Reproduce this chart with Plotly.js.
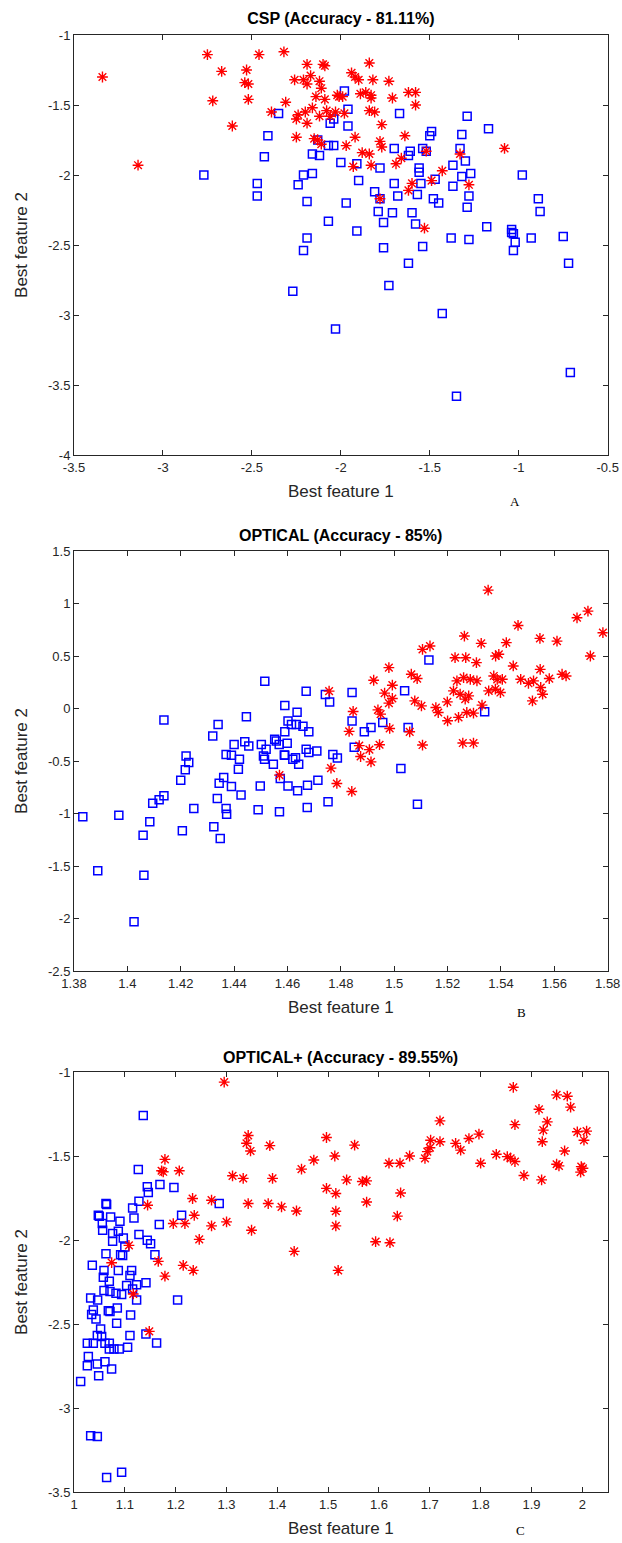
<!DOCTYPE html>
<html><head><meta charset="utf-8">
<script src="https://cdn.plot.ly/plotly-3.0.1.min.js"></script>
<style>html,body{margin:0;padding:0;background:#fff;} #chart{width:622px;height:1543px;}</style>
</head><body><div id="chart"></div><script>
// ---------- Panel A: CSP ----------
const cspRedX = [-3.34,-3.14,-2.75,-2.67,-2.72,-2.61,-2.53,-2.54,-2.52,-2.52,-2.46,-2.32,-2.39,-2.31,-2.25,-2.24,-2.25,-2.19,-2.26,-2.21,-2.19,-2.17,-2.10,-2.09,-2.12,-2.11,-2.14,-2.16,-2.20,-2.19,-2.12,-2.09,-2.08,-2.02,-2.15,-2.13,-2.11,-2.06,
  -1.84,-1.94,-1.92,-1.90,-1.82,-1.73,-2.01,-1.99,-1.89,-1.86,-1.83,-1.83,-1.71,-1.62,-1.58,-1.58,-1.84,-1.81,-1.98,-1.77,-1.92,-1.97,-1.78,-1.77,-1.64,-1.88,-1.84,-1.93,-1.83,-1.69,-1.66,-1.52,-1.33,-1.08,-1.43,-1.49,-1.60,-1.62,-1.78,-1.28,-1.53,-2.03];
const cspRedY = [-1.30,-1.93,-1.14,-1.26,-1.47,-1.65,-1.25,-1.34,-1.35,-1.46,-1.14,-1.12,-1.55,-1.48,-1.60,-1.57,-1.73,-1.21,-1.32,-1.32,-1.35,-1.29,-1.21,-1.22,-1.33,-1.38,-1.44,-1.52,-1.55,-1.63,-1.58,-1.46,-1.54,-1.43,-1.74,-1.75,-1.78,-1.58,
  -1.20,-1.27,-1.30,-1.32,-1.32,-1.33,-1.44,-1.44,-1.42,-1.41,-1.43,-1.45,-1.45,-1.41,-1.41,-1.50,-1.54,-1.55,-1.56,-1.64,-1.73,-1.79,-1.76,-1.80,-1.72,-1.84,-1.85,-1.94,-1.93,-1.92,-1.88,-1.83,-1.85,-1.81,-1.97,-2.04,-2.06,-2.11,-2.17,-2.07,-2.38,-1.55];
const cspBlueX = [-2.77,-2.47,-2.47,-2.43,-2.41,-2.35,-2.24,-2.21,-2.16,-2.19,-2.16,-2.12,-2.13,-2.07,-2.19,-2.21,-2.04,-2.06,-2.04,-2.00,
  -1.98,-1.96,-1.96,-1.67,-1.29,-1.17,-1.49,-1.50,-1.32,-1.70,-1.61,-1.62,-1.54,-1.52,-1.33,-1.91,-1.78,-1.30,-1.27,-1.32,-1.37,-1.56,-1.56,-1.90,-1.70,-1.55,-1.47,-1.37,-0.98,-1.81,-1.78,-1.68,-1.57,-1.48,-1.45,-1.28,-1.29,-0.89,-0.88,-1.97,-1.79,-1.71,-1.60,-1.76,-1.58,-1.91,-1.18,-1.04,-1.04,-1.03,-1.02,-1.38,-1.28,-0.93,-0.75,-1.76,-1.54,-1.03,
  -2.27,-1.73,-1.62,-0.72,-2.03,-1.43,-0.71,-1.35,-2.07];
const cspBlueY = [-2.00,-2.06,-2.15,-1.87,-1.72,-1.56,-2.07,-2.00,-1.99,-2.19,-1.85,-1.86,-1.75,-2.33,-2.45,-2.54,-1.60,-1.63,-1.79,-1.91,
  -1.40,-1.53,-1.65,-1.56,-1.58,-1.67,-1.69,-1.72,-1.71,-1.81,-1.83,-1.86,-1.81,-1.83,-1.81,-1.92,-1.95,-1.90,-1.99,-2.01,-1.93,-1.95,-1.98,-2.04,-2.06,-2.06,-2.03,-2.08,-2.00,-2.12,-2.17,-2.15,-2.14,-2.17,-2.20,-2.15,-2.23,-2.17,-2.26,-2.20,-2.26,-2.27,-2.27,-2.34,-2.35,-2.40,-2.37,-2.39,-2.41,-2.42,-2.48,-2.45,-2.46,-2.45,-2.44,-2.52,-2.51,-2.54,
  -2.83,-2.79,-2.63,-2.63,-3.10,-2.99,-3.41,-3.58,-1.79];
const cspXTicks = [-3.5,-3,-2.5,-2,-1.5,-1,-0.5];
const cspXTickText = ['-3.5','-3','-2.5','-2','-1.5','-1','-0.5'];
const cspYTicks = [-4,-3.5,-3,-2.5,-2,-1.5,-1];
const cspYTickText = ['-4','-3.5','-3','-2.5','-2','-1.5','-1'];

// ---------- Panel B: OPTICAL ----------
const optRedX = [1.4756,1.5352,1.5685,1.5726,1.5782,1.5464,1.5263,1.5326,1.542,1.5546,1.561,1.5735,1.5106,1.5134,1.5228,1.5268,1.5308,1.538,1.5392,1.5446,1.498,1.4923,1.4993,1.5064,1.5086,1.5235,1.526,1.5285,1.531,1.5373,1.5386,1.5405,1.5474,1.5503,1.5547,1.5581,1.5629,1.5644,1.5522,1.5549,1.5556,1.5518,1.4964,1.4993,1.498,1.4939,1.4949,1.5077,1.5102,1.5156,1.5165,1.5199,1.52,1.5222,1.5247,1.5266,1.5279,1.5241,1.5272,1.5297,1.5329,1.5354,1.5379,1.5398,1.4831,1.4846,1.4983,1.5058,1.5106,1.4945,1.4907,1.4869,1.5257,1.5297,1.457,1.4763,1.4785,1.4841,1.4874,1.4913];
const optRedY = [0.165,1.127,0.864,0.927,0.722,0.791,0.69,0.62,0.627,0.668,0.642,0.5,0.563,0.595,0.484,0.484,0.437,0.5,0.516,0.405,0.389,0.269,0.222,0.326,0.285,0.263,0.294,0.278,0.263,0.31,0.278,0.278,0.278,0.24,0.373,0.285,0.326,0.31,0.263,0.2,0.136,0.073,0.146,0.095,0.051,-0.013,-0.054,0.073,0.025,0.009,-0.038,0.063,-0.117,0.168,0.136,0.089,0.12,-0.085,-0.038,-0.044,0.032,0.168,0.184,0.152,-0.218,-0.028,-0.19,-0.222,-0.348,-0.345,-0.392,-0.354,-0.329,-0.329,-0.635,-0.568,-0.714,-0.79,-0.457,-0.508];
const optBlueX = [1.4515,1.467,1.4742,1.4758,1.459,1.4636,1.4137,1.4446,1.434,1.4602,1.4615,1.4633,1.4658,1.459,1.468,1.432,1.44,1.444,1.4455,1.4502,1.4552,1.4558,1.4569,1.4599,1.452,1.467,1.468,1.471,1.477,1.437,1.439,1.422,1.442,1.451,1.459,1.463,1.513,1.4842,1.5039,1.5339,1.4842,1.4957,1.4913,1.4888,1.5052,1.485,1.4787,1.423,1.4217,1.42,1.4137,1.4119,1.4095,1.4249,1.4084,1.4059,1.4206,1.3833,1.3968,1.3889,1.4062,1.4025,1.4416,1.4361,1.4344,1.439,1.4426,1.4337,1.437,1.4372,1.4324,1.4348,1.449,1.4498,1.4514,1.4547,1.4588,1.4573,1.4602,1.462,1.4642,1.4638,1.457,1.4674,1.4675,1.4714,1.4752,1.5025,1.5087];
const optBlueY = [0.26,0.165,0.133,0.063,0.028,-0.035,-0.11,-0.079,-0.152,-0.12,-0.152,-0.152,-0.168,-0.222,-0.222,-0.263,-0.342,-0.316,-0.358,-0.342,-0.294,-0.31,-0.342,-0.332,-0.389,-0.389,-0.42,-0.405,-0.437,-0.437,-0.446,-0.453,-0.484,-0.453,-0.446,-0.468,0.462,0.152,0.168,-0.032,-0.12,-0.133,-0.18,-0.222,-0.18,-0.37,-0.472,-0.514,-0.584,-0.683,-0.832,-0.87,-0.902,-0.952,-1.079,-1.206,-1.165,-1.032,-1.016,-1.546,-1.587,-2.032,-0.578,-0.657,-0.711,-0.743,-0.825,-0.857,-0.952,-1.006,-1.127,-1.238,-0.965,-0.737,-0.483,-0.53,-0.444,-0.667,-0.737,-0.483,-0.53,-0.784,-0.984,-0.943,-0.73,-0.683,-0.889,-0.571,-0.911];
const optXTicks = [1.38,1.4,1.42,1.44,1.46,1.48,1.5,1.52,1.54,1.56,1.58];
const optXTickText = ['1.38','1.4','1.42','1.44','1.46','1.48','1.5','1.52','1.54','1.56','1.58'];
const optYTicks = [-2.5,-2,-1.5,-1,-0.5,0,0.5,1,1.5];
const optYTickText = ['-2.5','-2','-1.5','-1','-0.5','0','0.5','1','1.5'];

// ---------- Panel C: OPTICAL+ ----------
const plusRedX = [1.2955,1.1789,1.1723,1.1756,1.2071,1.3427,1.3394,1.3473,1.3853,1.3119,1.3329,1.3906,1.4476,1.4718,1.4967,1.5131,1.4967,1.5151,1.5151,1.5151,1.5197,1.2333,1.2706,1.3427,1.3821,1.4083,1.4377,1.1448,1.2366,1.1953,1.2182,1.2706,1.3001,1.3493,1.2464,1.1081,1.4332,1.1658,1.0741,1.2149,1.2346,1.1789,1.1166,1.1481,1.8643,1.72,1.8675,1.9148,1.9495,1.9705,1.977,1.9311,1.9233,1.9213,1.9902,2.0085,2.0033,1.9652,1.7016,1.7003,1.6951,1.6905,1.72,1.7508,1.7607,1.777,1.7967,1.8308,1.8525,1.859,1.8675,1.8,1.9495,1.9541,1.998,2.0013,1.9967,1.8852,1.92,1.6603,1.6413,1.6197,1.5521,1.5364,1.5672,1.5757,1.6426,1.5757,1.6361,1.5934,1.6216];
const plusRedY = [-1.06,-1.52,-1.588,-1.594,-1.588,-1.378,-1.424,-1.47,-1.438,-1.618,-1.633,-1.633,-1.578,-1.524,-1.39,-1.5,-1.693,-1.723,-1.829,-1.916,-2.181,-1.753,-1.763,-1.783,-1.783,-1.803,-1.827,-1.793,-1.853,-1.902,-1.902,-1.916,-1.892,-1.942,-1.996,-2.032,-2.068,-2.127,-2.135,-2.151,-2.181,-2.215,-2.321,-2.544,-1.091,-1.291,-1.313,-1.222,-1.136,-1.144,-1.209,-1.297,-1.346,-1.415,-1.356,-1.352,-1.406,-1.47,-1.406,-1.451,-1.474,-1.514,-1.415,-1.425,-1.465,-1.396,-1.37,-1.49,-1.504,-1.514,-1.533,-1.543,-1.549,-1.559,-1.563,-1.573,-1.596,-1.616,-1.642,-1.5,-1.543,-1.543,-1.435,-1.642,-1.652,-1.648,-1.72,-1.774,-1.858,-2.01,-2.016];
const plusBlueX = [1.1363,1.1265,1.1442,1.1462,1.1691,1.1966,1.1278,1.1153,1.118,1.0629,1.0642,1.0478,1.0498,1.0721,1.0904,1.2857,1.2117,1.1678,1.0557,1.0564,1.076,1.076,1.0872,1.097,1.1,1.1278,1.1442,1.1507,1.1592,1.0629,1.0917,1.0957,1.036,1.059,1.0577,1.0872,1.1134,1.1101,1.0695,1.1035,1.1232,1.1416,1.059,1.0708,1.1153,1.0328,1.0826,1.0937,1.0465,1.1232,1.2038,1.0675,1.0708,1.0852,1.0347,1.038,1.0433,1.1114,1.0839,1.0524,1.0459,1.0544,1.0609,1.0695,1.0262,1.038,1.1101,1.1415,1.1625,1.0695,1.0786,1.0891,1.1055,1.0282,1.0262,1.0459,1.0609,1.074,1.0485,1.0131,1.0328,1.0459,1.0642,1.0937];
const plusBlueY = [-1.259,-1.58,-1.683,-1.717,-1.669,-1.687,-1.769,-1.809,-1.869,-1.783,-1.789,-1.853,-1.859,-1.863,-1.888,-1.783,-1.853,-1.908,-1.902,-1.942,-1.962,-2.008,-1.948,-1.988,-2.042,-1.968,-2.002,-2.022,-2.088,-2.082,-2.088,-2.092,-2.151,-2.181,-2.221,-2.181,-2.181,-2.211,-2.245,-2.271,-2.267,-2.255,-2.301,-2.307,-2.291,-2.345,-2.317,-2.325,-2.357,-2.357,-2.357,-2.421,-2.425,-2.405,-2.444,-2.417,-2.47,-2.446,-2.496,-2.53,-2.569,-2.575,-2.615,-2.615,-2.615,-2.615,-2.569,-2.56,-2.613,-2.649,-2.649,-2.649,-2.639,-2.694,-2.748,-2.738,-2.724,-2.768,-2.808,-2.843,-3.165,-3.169,-3.413,-3.383];
const plusXTicks = [1,1.1,1.2,1.3,1.4,1.5,1.6,1.7,1.8,1.9,2];
const plusXTickText = ['1','1.1','1.2','1.3','1.4','1.5','1.6','1.7','1.8','1.9','2'];
const plusYTicks = [-3.5,-3,-2.5,-2,-1.5,-1];
const plusYTickText = ['-3.5','-3','-2.5','-2','-1.5','-1'];

const panelTitles = ['CSP (Accuracy - 81.11%)','OPTICAL (Accuracy - 85%)','OPTICAL+ (Accuracy - 89.55%)'];
const panelLetters = ['A','B','C'];
const xLabel = 'Best feature 1';
const yLabel = 'Best feature 2';

// ---------- layout helpers ----------
const W = 622, H = 1543;
const px = v => v / W;
const py = v => 1 - v / H;
const FONT = 'Liberation Sans, Arial, Helvetica, sans-serif';
const AX = '#262626';
const left = 74, right = 607.7;
const panels = [{top:35,bottom:455},{top:551,bottom:971},{top:1072,bottom:1492}];

function xAx(range, tv, tt, yanchor) {
  return {domain:[px(left),px(right)], range:range, anchor:yanchor, tickmode:'array', tickvals:tv, ticktext:tt,
    showline:true, mirror:'ticks', linecolor:AX, linewidth:1, ticks:'inside', ticklen:5, tickcolor:AX, tickwidth:1,
    showgrid:false, zeroline:false, tickfont:{family:FONT,size:13,color:AX},
    title:{text:xLabel, font:{family:FONT,size:17,color:AX}, standoff:11}};
}
function yAx(range, tv, tt, xanchor, p) {
  return {domain:[py(p.bottom),py(p.top)], range:range, anchor:xanchor, tickmode:'array', tickvals:tv, ticktext:tt,
    showline:true, mirror:'ticks', linecolor:AX, linewidth:1, ticks:'inside', ticklen:5, tickcolor:AX, tickwidth:1,
    showgrid:false, zeroline:false, tickfont:{family:FONT,size:13,color:AX},
    title:{text:yLabel, font:{family:FONT,size:17,color:AX}, standoff:16}};
}

const blueMarker = {symbol:'square-open', size:8, color:'#0000FF', line:{color:'#0000FF', width:1.5}};
const redMarker = {symbol:'asterisk-open', size:9, color:'#FF0000', line:{color:'#FF0000', width:1.4}};

const data = [
  {x:cspBlueX, y:cspBlueY, xaxis:'x', yaxis:'y', type:'scatter', mode:'markers', marker:blueMarker, name:'class 2'},
  {x:cspRedX, y:cspRedY, xaxis:'x', yaxis:'y', type:'scatter', mode:'markers', marker:redMarker, name:'class 1'},
  {x:optBlueX, y:optBlueY, xaxis:'x2', yaxis:'y2', type:'scatter', mode:'markers', marker:blueMarker, name:'class 2'},
  {x:optRedX, y:optRedY, xaxis:'x2', yaxis:'y2', type:'scatter', mode:'markers', marker:redMarker, name:'class 1'},
  {x:plusBlueX, y:plusBlueY, xaxis:'x3', yaxis:'y3', type:'scatter', mode:'markers', marker:blueMarker, name:'class 2'},
  {x:plusRedX, y:plusRedY, xaxis:'x3', yaxis:'y3', type:'scatter', mode:'markers', marker:redMarker, name:'class 1'}
];

const titleY = [18, 535, 1057];
const letterPos = [[515,502],[521,1012],[520,1530]];
const annotations = [];
for (let i = 1; i < 3; i++) {
  annotations.push({text:'<b>'+panelTitles[i]+'</b>', xref:'paper', yref:'paper', x:px((left+right)/2), y:py(titleY[i]),
    xanchor:'center', yanchor:'middle', showarrow:false, font:{family:FONT,size:16,color:'#000'}});
}
for (let i = 0; i < 3; i++) {
  annotations.push({text:panelLetters[i], xref:'paper', yref:'paper', x:px(letterPos[i][0]), y:py(letterPos[i][1]),
    xanchor:'center', yanchor:'middle', showarrow:false, font:{family:'Liberation Serif, Times New Roman, serif',size:13,color:'#000'}});
}

const layout = {
  width:W, height:H, margin:{l:0,r:0,t:0,b:0}, paper_bgcolor:'#fff', plot_bgcolor:'#fff', showlegend:false,
  title:{text:'<b>'+panelTitles[0]+'</b>', x:px((left+right)/2), xref:'paper', y:py(titleY[0]), yref:'paper', xanchor:'center', yanchor:'middle',
    font:{family:FONT,size:16,color:'#000'}},
  xaxis: xAx([-3.5,-0.5], cspXTicks, cspXTickText, 'y'),
  yaxis: yAx([-4,-1], cspYTicks, cspYTickText, 'x', panels[0]),
  xaxis2: xAx([1.38,1.58], optXTicks, optXTickText, 'y2'),
  yaxis2: yAx([-2.5,1.5], optYTicks, optYTickText, 'x2', panels[1]),
  xaxis3: xAx([1,2.05], plusXTicks, plusXTickText, 'y3'),
  yaxis3: yAx([-3.5,-1], plusYTicks, plusYTickText, 'x3', panels[2]),
  annotations: annotations
};

Plotly.newPlot('chart', data, layout, {displayModeBar:false, staticPlot:true});
</script></body></html>
